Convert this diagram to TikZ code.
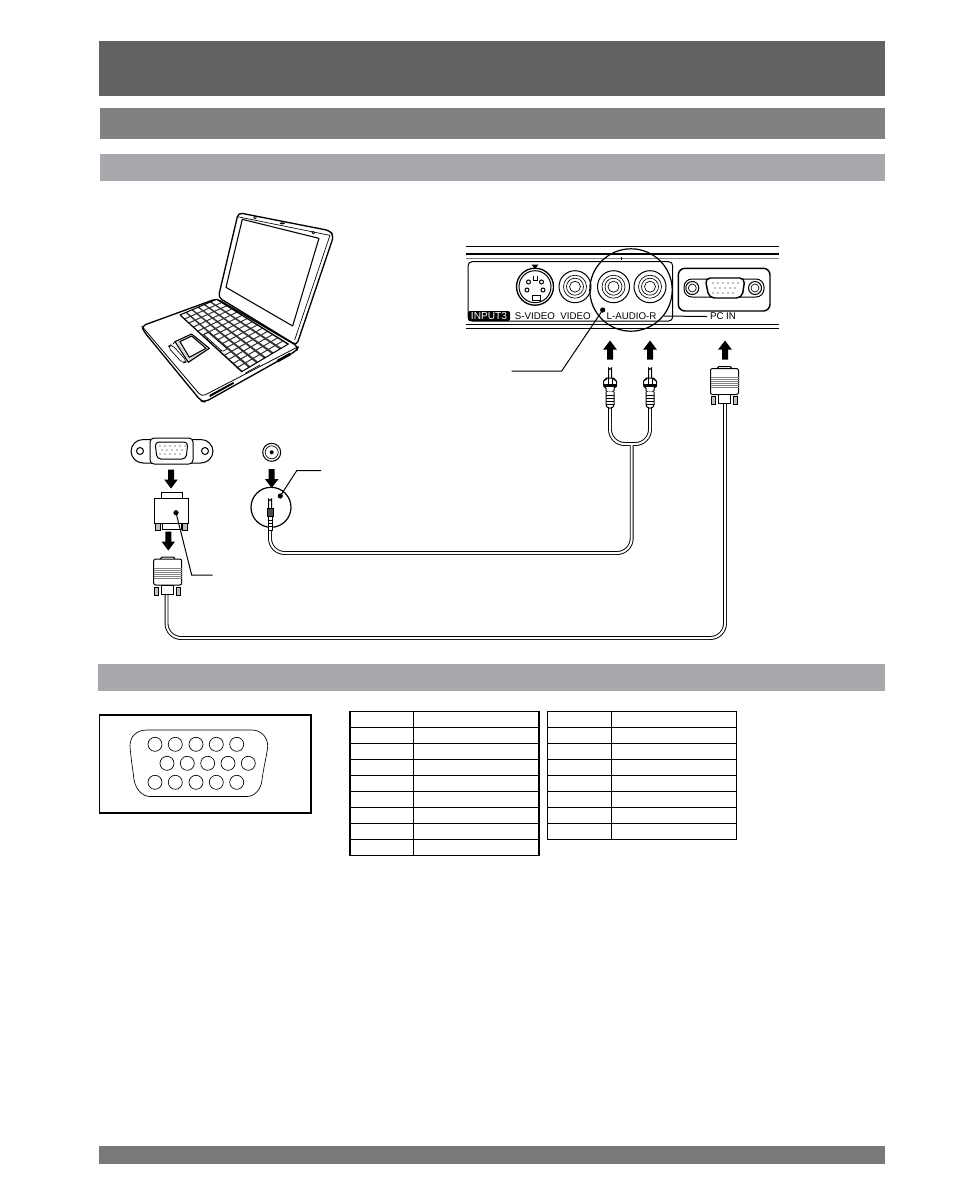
\documentclass[tikz,border=0pt]{standalone}
\usepackage{xcolor}
\usepackage{fontspec}
\setmainfont{Liberation Sans}
\usetikzlibrary{calc}
\definecolor{bandDark}{RGB}{97,98,100}
\definecolor{bandMid}{RGB}{128,129,131}
\definecolor{bandLight}{RGB}{168,169,172}
\definecolor{bandFoot}{RGB}{120,121,123}
\tikzset{
  wire/.style={line width=0.75pt,black},
  hair/.style={line width=0.5pt,black},
  paneltext/.style={font=\fontsize{7.3}{8}\selectfont,inner sep=0pt},
  cableout/.style={line width=2.9pt,black,rounded corners=11pt},
  cablein/.style={line width=1.5pt,white,rounded corners=11pt},
  blockarrow/.pic={
    \fill (0,-9.5) -- (6.8,-0.5) -- (3,-0.5) -- (3,9.5) -- (-3,9.5) -- (-3,-0.5) -- (-6.8,-0.5) -- cycle;
  },
  vgaplug/.pic={
    %Shape: Rectangle tab and body
    \draw[wire,fill=white,rounded corners=1pt] (-7,2) -- (-7,-2) -- (7,-2) -- (7,2);
    \draw[wire,fill=white,rounded corners=1.5pt] (-14,0) rectangle (14,26);
    \foreach \ypos in {9,11,13,15,17,19}
      \draw[hair,gray] (-14,\ypos) -- (14,\ypos);
    %Shape: Rectangle neck and screws
    \draw[wire,fill=white] (-6,26) rectangle (6,35);
    \draw[wire,fill=lightgray] (-13,28) rectangle (-9,36);
    \draw[wire,fill=lightgray] (9,28) rectangle (13,36);
  },
  rcaplug/.pic={
    \draw[wire,fill=white] (-1.5,1) -- (-1.5,-9) arc (180:0:1.5) -- (1.5,1);
    \draw[wire,fill=white,rounded corners=1pt] (-4,1) -- (4,1) -- (4,3) -- (6.5,3) -- (6.5,10) -- (4,10) -- (4,15) -- (-4,15) -- (-4,10) -- (-6.5,10) -- (-6.5,3) -- (-4,3) -- cycle;
    \fill (-6.5,7) rectangle (6.5,10);
    \draw[hair] (-2,1) -- (-2,7) (2,1) -- (2,7);
    \draw[wire,fill=white,rounded corners=1pt] (-4,15) -- (-4,29) -- (-2,31) -- (2,31) -- (4,29) -- (4,15);
    \foreach \ypos in {18,21,24,27}
      \draw[hair] (-4,\ypos) -- (4,\ypos);
  },
  lap/.style={line width=0.8pt,black,line join=round},
  lapkey/.style={line width=0.5pt,black,fill=white,rounded corners=0.5pt}
}

\begin{document}
\begin{tikzpicture}[x=0.75pt,y=0.75pt,yscale=-1]
  \useasboundingbox (0,0) rectangle (954,1204);

  %Shape: Rectangle header bands
  \fill[bandDark] (99,41) rectangle (885,96);
  \fill[bandMid] (100,108) rectangle (885,139);
  \fill[bandLight] (100,154) rectangle (885,181);
  \fill[bandLight] (98,664) rectangle (885,691);
  \fill[bandFoot] (99,1146) rectangle (885,1164);

  %Laptop
  \begin{scope}[shift={(120,200)},scale=0.3333]
    %Shape: lid
    \draw[lap,line width=1pt,fill=white,rounded corners=3pt] (295,292) -- (355,38) -- (630,92) -- (641,108) -- (530,436) -- cycle;
    \draw[lap,line width=0.5pt] (352,50) -- (630,106) -- (524,420);
    \draw[lap] (367,58) -- (597,115) -- (518,378) -- (318,262) -- cycle;
    \draw[lap,line width=0.5pt] (405,53) circle (4);
    \fill (487,70) ellipse (8 and 3);
    \draw[lap,line width=0.5pt] (580,98) circle (4);
    %Shape: base
    \draw[lap,line width=1pt,fill=white,rounded corners=3pt] (65,378) -- (290,296) -- (535,440) -- (530,452) -- (255,606) -- (243,603) -- (72,395) -- cycle;
    \draw[lap,line width=0.6pt,rounded corners=3pt] (65,378) -- (245,590) -- (535,440);
    \fill (470,480) -- (510,458) -- (512,466) -- (474,487) -- cycle;
    \fill (268,585) -- (340,546) -- (342,551) -- (270,591) -- cycle;
    \draw[lap,line width=0.5pt] (375,520) -- (420,495);
    %Shape: keyboard
    \coordinate (kA) at (180,345);
    \coordinate (kB) at (290,298);
    \coordinate (kC) at (505,432);
    \coordinate (kD) at (365,515);
    \draw[lap,fill=black!80] (kA) -- (kB) -- (kC) -- (kD) -- cycle;
    \foreach \ii in {0,...,13}
      \foreach \jj in {0,...,5}{
        \pgfmathsetmacro{\ua}{(\ii+0.12)/14}
        \pgfmathsetmacro{\ub}{(\ii+0.88)/14}
        \pgfmathsetmacro{\va}{(\jj+0.14)/6}
        \pgfmathsetmacro{\vb}{(\jj+0.86)/6}
        \fill[white] ($($(kA)!\ua!(kD)$)!\va!($(kB)!\ua!(kC)$)$) -- ($($(kA)!\ub!(kD)$)!\va!($(kB)!\ub!(kC)$)$) -- ($($(kA)!\ub!(kD)$)!\vb!($(kB)!\ub!(kC)$)$) -- ($($(kA)!\ua!(kD)$)!\vb!($(kB)!\ua!(kC)$)$) -- cycle;
      }
    \draw[lapkey] ($($(kA)!0.36!(kD)$)!0.04!($(kB)!0.36!(kC)$)$) -- ($($(kA)!0.66!(kD)$)!0.04!($(kB)!0.66!(kC)$)$) -- ($($(kA)!0.66!(kD)$)!0.15!($(kB)!0.66!(kC)$)$) -- ($($(kA)!0.36!(kD)$)!0.15!($(kB)!0.36!(kC)$)$) -- cycle;
    %Shape: touchpad
    \draw[lap,fill=black!15] (165,425) -- (215,402) -- (268,445) -- (205,487) -- cycle;
    \draw[lap,fill=white] (180,425) -- (215,408) -- (258,445) -- (208,472) -- cycle;
    \draw[lap,line width=0.5pt,rounded corners=3pt] (143,440) -- (155,433) -- (202,485) -- (188,490) -- cycle;
    \draw[lap,line width=0.5pt] (158,433) -- (165,425);
  \end{scope}

  %Rear panel lines
  \draw[line width=1.2pt] (466,246.5) -- (779,246.5);
  \draw[line width=1.2pt] (466,254) -- (779,254);
  \draw[hair,gray] (466,258) -- (779,258);
  \draw[line width=0.9pt] (466,324.5) -- (779,324.5);
  \draw[wire] (466,328.5) -- (779,328.5);

  %Shape: Rectangle input frame
  \draw[wire,rounded corners=3pt] (672.7,261.7) -- (468,261.7) -- (468,321) -- (672.7,321) -- cycle;
  \path[fill=black,rounded corners=1.5pt] (468,311) -- (510,311) -- (510,321) -- (468,321) -- cycle;
  \node[paneltext,text=white,font=\fontsize{7.6}{8}\selectfont] (inputLabel) at (489,316) {INPUT3};
  \node[paneltext] (svideoLabel) at (535,316) {S-VIDEO};
  \node[paneltext] (videoLabel) at (575.5,316) {VIDEO};
  \node[paneltext] (audioLabel) at (631.5,316) {L-AUDIO-R};
  \node[paneltext] (pcinLabel) at (723,316.5) {PC IN};
  \coordinate (pcinLeft) at (663.5,316);
  \draw[wire] (pcinLeft) -- ([xshift=-2pt]pcinLabel.west);

  %Shape: Circle S-VIDEO
  \fill (531.5,264.5) -- (538.5,264.5) -- (535,269) -- cycle;
  \draw[line width=1pt] (535,286.7) circle (18.5);
  \draw[wire] (535,286.7) circle (16);
  \draw[wire] (528.5,282) circle (2);
  \draw[wire] (541.5,282) circle (2);
  \draw[wire] (527,290) circle (2);
  \draw[wire] (543,290) circle (2);
  \draw[wire] (533,276) -- (533,280) -- (537,280) -- (537,276);
  \draw[wire] (532,295) rectangle (540,300);
  %Shape: Circle RCA sockets
  \foreach \xpos in {575,613.5,650}{
    \draw[wire] (\xpos,286.7) circle (16);
    \draw[hair] (\xpos,286.7) circle (11.5);
    \draw[hair] (\xpos,286.7) circle (8.5);
    \draw[hair] (\xpos,286.7) circle (5.5);
  }
  \draw[wire] (621.7,256.5) -- (621.7,260);
  %Shape: Circle detail
  \draw[line width=0.9pt] (631,290) circle (41.2);

  %Shape: Rectangle PC IN port
  \draw[line width=1.1pt,rounded corners=5pt] (678.3,268.3) rectangle (770,311);
  \draw[wire,rounded corners=6pt] (684,279) -- (764,279) -- (764,297) -- (684,297) -- cycle;
  \draw[line width=1.1pt,fill=white,rounded corners=4pt] (705,278) -- (745,278) -- (742,298) -- (709,298) -- cycle;
  \foreach \xpos in {713,718,723,728,733,738}
    \fill (\xpos,283) circle (0.6);
  \foreach \xpos in {715,720,725,730,735}
    \fill (\xpos,288) circle (0.6);
  \foreach \xpos in {713,718,723,728,733}
    \fill (\xpos,293) circle (0.6);
  \foreach \xpos in {692.3,755}{
    \draw[wire] (\xpos,288) circle (6.5);
    \draw[hair] (\xpos,288) circle (4);
  }

  %Leader audio detail
  \coordinate (audioDot) at (602.7,310);
  \coordinate (audioBend) at (561.7,371);
  \coordinate (audioEnd) at (511.7,371);
  \fill (audioDot) circle (2.6);
  \draw[wire] (audioDot) -- (audioBend) -- (audioEnd);

  %Cables
  \coordinate (rcaLeft) at (610,405);
  \coordinate (rcaRight) at (650,405);
  \coordinate (yJoin) at (631.7,444);
  \coordinate (audioCorner) at (631.7,553);
  \coordinate (jackCorner) at (270,553);
  \coordinate (jackEnd) at (270,528);
  \coordinate (pcPlugEnd) at (725,400);
  \coordinate (pcCorner) at (725,638);
  \coordinate (laptopCorner) at (166.5,638);
  \coordinate (laptopPlugEnd) at (166.5,590);
  \draw[cableout] (rcaLeft) -- (rcaLeft |- yJoin) -- (rcaRight |- yJoin) -- (rcaRight);
  \draw[cableout] (yJoin) -- (audioCorner) -- (jackCorner) -- (jackEnd);
  \draw[cablein] (rcaLeft) -- (rcaLeft |- yJoin) -- (rcaRight |- yJoin) -- (rcaRight);
  \draw[cablein] (yJoin) -- (audioCorner) -- (jackCorner) -- (jackEnd);
  \draw[cableout] (pcPlugEnd) -- (pcCorner) -- (laptopCorner) -- (laptopPlugEnd);
  \draw[cablein] (pcPlugEnd) -- (pcCorner) -- (laptopCorner) -- (laptopPlugEnd);

  %Plugs and arrows on the panel side
  \pic[rotate=180] at (610,350) {blockarrow};
  \pic[rotate=180] at (650,350) {blockarrow};
  \pic[rotate=180] at (725,350) {blockarrow};
  \pic[yscale=-1] at (610,377) {rcaplug};
  \pic[yscale=-1] at (650,377) {rcaplug};
  \pic[yscale=-1] at (724.5,368.5) {vgaplug};

  %Shape: Rectangle laptop port
  \draw[wire,rounded corners=9pt] (131,439.5) rectangle (213,463);
  \draw[wire,fill=white,rounded corners=3pt] (150,438) rectangle (193,464);
  \draw[wire,rounded corners=3pt] (155,442) -- (188,442) -- (186,459) -- (157,459) -- cycle;
  \foreach \xpos in {160,165,170,175,180,185}
    \fill (\xpos,446) circle (0.7);
  \foreach \xpos in {162,167,172,177,182}
    \fill (\xpos,450) circle (0.7);
  \foreach \xpos in {160,165,170,175,180}
    \fill (\xpos,454) circle (0.7);
  \draw[wire] (140,451) circle (3.5);
  \draw[wire] (205,451) circle (3.5);
  \pic at (171,479) {blockarrow};

  %Shape: Rectangle adapter
  \draw[wire,fill=white] (161,498) -- (161,492.5) -- (182,492.5) -- (182,498);
  \draw[wire,fill=white] (154.5,498) rectangle (188,523);
  \draw[wire,fill=white] (162,523) rectangle (181,529);
  \draw[wire,fill=lightgray] (155.5,523) rectangle (160,530);
  \draw[wire,fill=lightgray] (182.5,523) rectangle (187.5,530);
  \pic at (168.3,541) {blockarrow};
  \pic[yscale=-1] at (167.7,559) {vgaplug};

  %Leader adapter
  \coordinate (adapterDot) at (176,512.7);
  \coordinate (adapterBend) at (191.7,575);
  \coordinate (adapterEnd) at (212.7,575);
  \fill (adapterDot) circle (2.6);
  \draw[wire] (adapterDot) -- (adapterBend) -- (adapterEnd);

  %Shape: Circle audio port and jack
  \draw[wire] (271.7,452.3) circle (9);
  \draw[hair] (271.7,452.3) circle (6.5);
  \fill (271.7,452.3) circle (2);
  \pic at (271.7,478.5) {blockarrow};
  \draw[line width=0.9pt,fill=white] (271,507.3) circle (20);
  \draw[wire,fill=white] (268.5,508) -- (268.5,499) arc (180:0:1.5) -- (271.5,508);
  \draw[wire,fill=black!70] (267,508) rectangle (273,516);
  \draw[wire,fill=white] (268,516) rectangle (272,530);
  \draw[hair] (268,520) -- (272,520) (268,523) -- (272,523) (268,526) -- (272,526);
  \coordinate (jackDot) at (280.3,496);
  \coordinate (jackBend) at (296.7,470.7);
  \coordinate (jackLeaderEnd) at (321,470.7);
  \fill (jackDot) circle (2.6);
  \draw[wire] (jackDot) -- (jackBend) -- (jackLeaderEnd);

  %Shape: Rectangle pin diagram
  \draw[line width=1.3pt] (99.5,715) rectangle (311,812.7);
  \draw[hair] (146.7,730) .. controls (136,730) and (130,737) .. (130,746) .. controls (131,760) and (133,770) .. (134,780) .. controls (136,790) and (143,796.5) .. (150,796.5) -- (247,796.5) .. controls (254,796.5) and (261,790) .. (262,780) .. controls (263,770) and (267,755) .. (267.7,746) .. controls (267.7,737) and (261,730) .. (251.7,730) -- cycle;
  \foreach \xpos in {155,175.3,196,216.3,236.7}{
    \draw[hair] (\xpos,744.3) circle (7);
    \draw[hair] (\xpos,782.3) circle (7);
  }
  \foreach \xpos in {167,187.3,207.7,228,248.3}
    \draw[hair] (\xpos,763.3) circle (7);

  %Tables
  \foreach \ypos in {711.7,727.7,743.7,759.7,775.7,791.7,807.7,823.7,839.7,855.7}
    \draw[wire] (350,\ypos) -- (539,\ypos);
  \draw[line width=1.5pt] (350,711.2) -- (350,856.2);
  \draw[wire] (413.3,711.7) -- (413.3,855.7);
  \draw[line width=1.5pt] (539,711.2) -- (539,856.2);
  \foreach \ypos in {711.7,727.7,743.7,759.7,775.7,791.7,807.7,823.7,839.7}
    \draw[wire] (547.3,\ypos) -- (736.7,\ypos);
  \draw[wire] (547.3,711.7) -- (547.3,839.7);
  \draw[wire] (611.3,711.7) -- (611.3,839.7);
  \draw[wire] (736.7,711.7) -- (736.7,839.7);
\end{tikzpicture}
\end{document}
